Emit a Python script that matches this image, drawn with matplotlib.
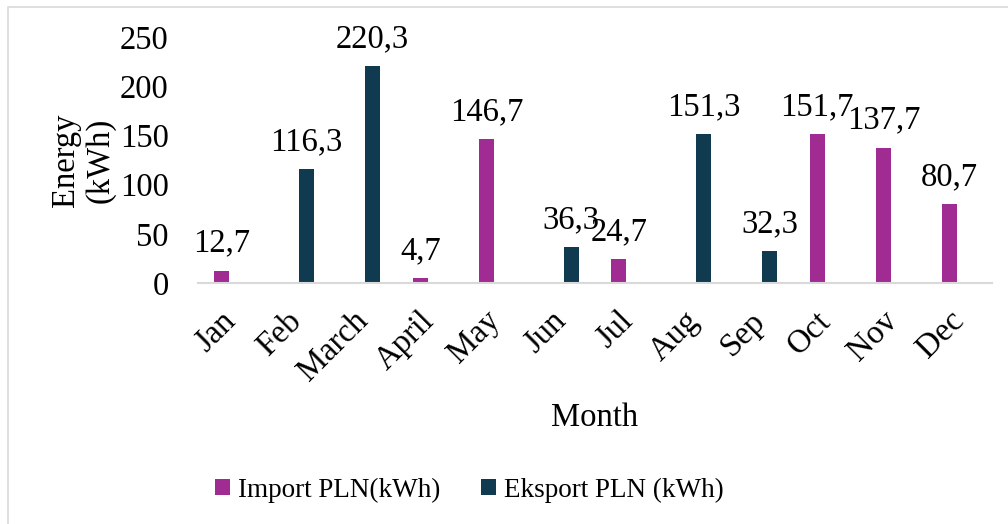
import matplotlib
matplotlib.use('Agg')
import matplotlib.pyplot as plt
from matplotlib.patches import Rectangle
import numpy as np

plt.rcParams['font.family'] = ['Liberation Serif', 'DejaVu Serif']

months = ['Jan', 'Feb', 'March', 'April', 'May', 'Jun', 'Jul', 'Aug', 'Sep', 'Oct', 'Nov', 'Dec']
import_pln = [12.7, 0, 0, 4.7, 146.7, 0, 24.7, 0, 0, 151.7, 137.7, 80.7]
export_pln = [0, 116.3, 220.3, 0, 0, 36.3, 0, 151.3, 32.3, 0, 0, 0]

C_IMPORT = '#A02B93'
C_EXPORT = '#0F3A4F'
FS = 23.5

fig = plt.figure(figsize=(10.08, 5.24), dpi=100)
ax = fig.add_axes([198/1008, 1 - 283/524, (992 - 198)/1008, (283 - 37)/524])

x = np.arange(len(months))
w, off = 0.227, 0.14
b1 = ax.bar(x - off, import_pln, w, color=C_IMPORT, label='Import PLN(kWh)')
b2 = ax.bar(x + off, export_pln, w, color=C_EXPORT, label='Eksport PLN (kWh)')

# value labels only on non-empty bars
for bars, vals in ((b1, import_pln), (b2, export_pln)):
    for bar, v in zip(bars, vals):
        if v == 0:
            continue
        ax.annotate(f'{v:.1f}'.replace('.', ','),
                    (bar.get_x() + bar.get_width()/2, v),
                    xytext=(0, 13.5), textcoords='offset points',
                    ha='center', va='baseline', fontsize=FS)

ax.set_xlim(-0.5, len(months) - 0.5)
ax.set_ylim(0, 250)
ax.set_yticks(range(0, 251, 50))
ax.set_xticks(x)
ax.set_xticklabels(months, rotation=45, ha='right', va='center', rotation_mode='anchor')
ax.tick_params(axis='both', length=0, labelsize=FS)
ax.tick_params(axis='x', pad=24)
ax.tick_params(axis='y', pad=21)

for s in ('top', 'right', 'left'):
    ax.spines[s].set_visible(False)
ax.spines['bottom'].set_color('#D9D9D9')
ax.spines['bottom'].set_linewidth(1.5)

ax.set_xlabel('Month', fontsize=FS)
ax.xaxis.set_label_coords(0.5, -0.485)
ax.set_ylabel('Energy\n(kWh)', fontsize=FS, linespacing=1.15)
ax.yaxis.set_label_coords(-0.104, 0.5)

fig.legend(handles=[b1, b2], loc='center', bbox_to_anchor=(0.466, 1 - 490/524),
           ncol=2, frameon=False, fontsize=19.5, handlelength=0.55, handleheight=0.55,
           handletextpad=0.3, columnspacing=1.5)

# outer chart border
fig.patches.append(Rectangle((8/1008, -0.02), 1.1, 1 - 7/524 + 0.02,
                             transform=fig.transFigure, fill=False,
                             edgecolor='#D9D9D9', linewidth=1.2))

fig.savefig('out.png', dpi=100)
